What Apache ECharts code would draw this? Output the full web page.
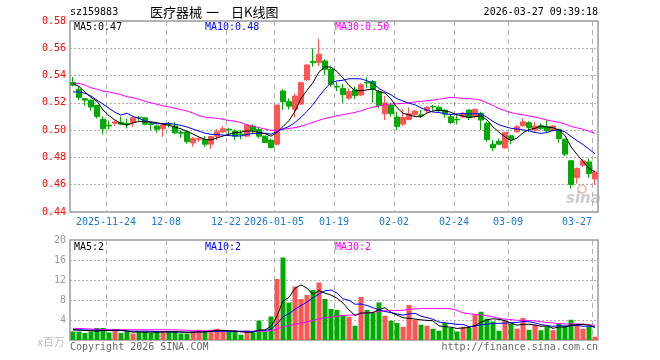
<!DOCTYPE html>
<html><head><meta charset="utf-8">
<script src="https://cdn.jsdelivr.net/npm/echarts@6/dist/echarts.min.js"></script>
<style>html,body{margin:0;padding:0;background:#fff}#c{width:660px;height:360px}</style>
</head><body><div id="c"></div>
<script>
const dates = ['2025-11-14','2025-11-17','2025-11-18','2025-11-19','2025-11-20','2025-11-21','2025-11-24','2025-11-25','2025-11-26','2025-11-27',
'2025-11-28','2025-12-01','2025-12-02','2025-12-03','2025-12-04','2025-12-05','2025-12-08','2025-12-09','2025-12-10','2025-12-11',
'2025-12-12','2025-12-15','2025-12-16','2025-12-17','2025-12-18','2025-12-19','2025-12-22','2025-12-23','2025-12-24','2025-12-25',
'2025-12-26','2025-12-29','2025-12-30','2025-12-31','2026-01-05','2026-01-06','2026-01-07','2026-01-08','2026-01-09','2026-01-12',
'2026-01-13','2026-01-14','2026-01-15','2026-01-16','2026-01-19','2026-01-20','2026-01-21','2026-01-22','2026-01-23','2026-01-26',
'2026-01-27','2026-01-28','2026-01-29','2026-01-30','2026-02-02','2026-02-03','2026-02-04','2026-02-05','2026-02-06','2026-02-09',
'2026-02-10','2026-02-11','2026-02-12','2026-02-13','2026-02-24','2026-02-25','2026-02-26','2026-02-27','2026-03-02','2026-03-03',
'2026-03-04','2026-03-05','2026-03-06','2026-03-09','2026-03-10','2026-03-11','2026-03-12','2026-03-13','2026-03-16','2026-03-17',
'2026-03-18','2026-03-19','2026-03-20','2026-03-23','2026-03-24','2026-03-25','2026-03-26','2026-03-27'];

const opens = [.535,.530,.523,.522,.518,.508,.5035,.505,.5058,.505,
.5056,.5095,.509,.5046,.503,.501,.5046,.503,.4982,.4988,
.4907,.4933,.4932,.4897,.4956,.4988,.5007,.4993,.4972,.4956,
.503,.5005,.4956,.4926,.4897,.5287,.5208,.5152,.5191,.5368,
.5505,.5495,.5507,.5446,.532,.5306,.5235,.5296,.5257,.535,
.5357,.5282,.512,.5184,.5096,.5044,.5077,.5115,.5112,.5143,
.5174,.5167,.5147,.5098,.508,.5098,.5147,.5098,.5123,.505,
.4897,.4919,.487,.4958,.4988,.5032,.5054,.500,.5032,.5025,
.4995,.5005,.4934,.4775,.4652,.4743,.4767,.4642];

const closes = [.533,.524,.522,.517,.510,.501,.503,.506,.5044,.504,
.509,.509,.5044,.5042,.5007,.504,.5043,.498,.4978,.4915,
.494,.4937,.4897,.4953,.4988,.501,.5003,.4956,.4968,.5037,
.500,.4956,.491,.4873,.5184,.5208,.5176,.525,.5348,.5478,
.5495,.5556,.5446,.5336,.5316,.526,.5282,.5253,.5333,.5346,
.5299,.518,.520,.512,.5027,.5093,.512,.514,.5108,.5167,
.517,.5143,.5118,.5056,.5076,.5123,.5093,.5152,.5074,.4931,
.487,.4897,.4983,.4934,.5025,.5061,.502,.503,.5012,.4995,
.503,.4939,.4824,.4601,.4718,.4775,.4681,.4694];

const lows = [.532,.522,.518,.514,.5085,.497,.5005,.503,.5036,.5012,
.5024,.507,.5036,.500,.498,.495,.502,.497,.4944,.490,
.4878,.4914,.4878,.4862,.4926,.4976,.4963,.4927,.4932,.4951,
.4976,.4939,.4904,.4865,.489,.5147,.5152,.5093,.5184,.5362,
.5465,.547,.5404,.5318,.5285,.520,.522,.5226,.525,.5306,
.520,.516,.5074,.5098,.500,.503,.5074,.5105,.509,.5127,
.5143,.513,.509,.5045,.5042,.5085,.5074,.509,.500,.4914,
.4846,.489,.4865,.4897,.498,.5025,.4988,.498,.500,.498,
.499,.4907,.481,.4571,.4608,.4731,.4652,.460];

const highs = [.539,.532,.5235,.5225,.5185,.510,.507,.507,.510,.5085,
.5098,.5105,.5095,.5053,.5036,.505,.506,.506,.500,.4995,
.495,.4946,.4956,.4956,.5007,.503,.5017,.5005,.500,.5044,
.5042,.5017,.4958,.4939,.5184,.530,.5233,.527,.5355,.5483,
.560,.5669,.552,.5461,.5352,.5338,.5306,.5318,.5343,.5387,
.5368,.5294,.525,.520,.5135,.5155,.5167,.5147,.5147,.5176,
.5184,.518,.515,.5115,.511,.5135,.5155,.516,.5135,.5062,
.4927,.4939,.4988,.4963,.5037,.5086,.5066,.5061,.505,.5074,
.5035,.5012,.4937,.478,.4726,.4787,.4792,.4706];

// volume in millions
const volumes = [1.7,1.7,1.4,1.7,2.4,2.4,1.5,2.0,1.4,1.7,
1.3,1.7,1.7,1.4,1.7,1.7,1.7,1.7,1.3,1.3,
1.7,2.05,1.7,2.05,2.25,1.6,1.6,1.6,1.06,1.9,
1.5,3.9,1.7,4.7,12.2,16.5,7.5,10.7,8.2,9.0,
10.0,11.5,8.2,6.2,6.0,5.0,4.6,2.85,8.6,6.0,
5.4,7.5,4.85,3.85,3.4,2.65,7.0,4.05,3.05,2.85,
2.25,1.85,3.4,2.4,1.7,2.65,2.4,5.25,5.65,4.25,
3.7,1.85,3.85,3.25,2.25,4.4,2.05,3.05,1.95,2.7,
1.95,3.4,2.85,4.05,3.05,2.25,2.7,0.66];

const ma5Head = [.534,.532,.528,.524];
const ma10Head = [.528,.528,.527,.525,.522,.519,.516,.513,.511];
const ma30Head = [.5343,.5343,.533,.531,.530,.5285,.528,.527,.526,.5245,
.5238,.5225,.521,.520,.519,.5178,.517,.516,.515,.514,
.5125,.5105,.5095,.509,.5087,.508,.507,.5065,.5055];
const vma5Head = [2.1,2.0,1.9,1.85];
const vma10Head = [2.0,2.0,2.0,1.95,1.95,1.95,1.9,1.9,1.9];
const vma30Head = [2.35,2.3,2.25,2.2,2.15,2.1,2.1,2.05,2.05,2.05,
2.05,2.05,2.05,2.05,2.05,2.05,2.05,2.0,2.0,1.95,
1.85,1.85,1.85,1.85,1.8,1.8,1.8,1.8,1.8];

const tickDates = ['2025-11-24','2025-12-08','2025-12-22','2026-01-05','2026-01-19','2026-02-02','2026-02-24','2026-03-09','2026-03-27'];
const tickLabels = ['2025-11-24','12-08','12-22','2026-01-05','01-19','02-02','02-24','03-09','03-27'];

const priceTicks = {min:0.44, max:0.58, interval:0.02};
const volTicks = {min:0, max:20, interval:4};

function ma(vals, n, head){
  return vals.map((v,i)=>{
    if(i < n-1) return head[i];
    let s=0; for(let k=i-n+1;k<=i;k++) s+=vals[k];
    return s/n;
  });
}
const ma5 = ma(closes,5,ma5Head), ma10 = ma(closes,10,ma10Head), ma30 = ma(closes,30,ma30Head);
const vma5 = ma(volumes,5,vma5Head), vma10 = ma(volumes,10,vma10Head), vma30 = ma(volumes,30,vma30Head);

const labelMap = {}; tickDates.forEach((d,k)=>labelMap[d]=tickLabels[k]);
const lastIdx = dates.length-1;
const isTick = (idx,val)=> labelMap[dates[idx]] !== undefined;

const MONO = '"DejaVu Sans Mono", monospace';
const CJK = '"Noto Sans CJK SC", sans-serif';
const UP = '#ff5555', DOWN = '#00aa00';
const gridLine = {color:'#adadad', type:[2,2], width:1};
const vLine = {color:'#b0b0b0', type:[5,4], width:1};
const last = a => a[a.length-1];

const chart = echarts.init(document.getElementById('c'), null, {renderer:'canvas'});
const option = {
  animation:false,
  backgroundColor:'#fff',
  grid:[
    {left:70, top:21, width:528, height:191, show:true, borderColor:'#9a9a9a', borderWidth:1.5, backgroundColor:'transparent'},
    {left:70, top:240, width:528, height:100, show:true, borderColor:'#9a9a9a', borderWidth:1.5, backgroundColor:'transparent'}
  ],
  xAxis:[
    {type:'category', gridIndex:0, data:dates, boundaryGap:true,
     axisLine:{show:false}, axisTick:{show:false},
     axisLabel:{show:true, interval:isTick, margin:5,
       formatter:(v,idx)=>{const t=labelMap[v]; if(!t) return ''; return idx===lastIdx?'{b|'+t+'}':'{a|'+t+'}';},
       rich:{a:{padding:[0,6,0,0], fontFamily:MONO, fontSize:10, color:'#1a7bd1'},
             b:{padding:[0,36,0,0], fontFamily:MONO, fontSize:10, color:'#1a7bd1'}}},
     splitLine:{show:true, interval:isTick, lineStyle:vLine}},
    {type:'category', gridIndex:1, data:dates, boundaryGap:true,
     axisLine:{show:false}, axisTick:{show:false}, axisLabel:{show:false},
     splitLine:{show:true, interval:isTick, lineStyle:vLine}}
  ],
  yAxis:[
    {type:'value', gridIndex:0, min:priceTicks.min, max:priceTicks.max, interval:priceTicks.interval,
     axisLine:{show:false}, axisTick:{show:false},
     axisLabel:{color:'#ff0000', fontFamily:MONO, fontSize:10, margin:4, formatter:v=>v.toFixed(2)},
     splitLine:{show:true, lineStyle:gridLine}},
    {type:'value', gridIndex:1, min:volTicks.min, max:volTicks.max, interval:volTicks.interval,
     axisLine:{show:false}, axisTick:{show:false},
     axisLabel:{color:'#999', fontFamily:MONO, fontSize:10, margin:4, formatter:v=>v===0?'':String(v)},
     splitLine:{show:true, lineStyle:gridLine}}
  ],
  series:[
    {type:'candlestick', xAxisIndex:0, yAxisIndex:0, barWidth:5,
     data:dates.map((d,i)=>[opens[i],closes[i],lows[i],highs[i]]),
     itemStyle:{color:UP, color0:DOWN, borderColor:UP, borderColor0:DOWN, borderWidth:1}},
    {type:'line', xAxisIndex:0, yAxisIndex:0, data:ma30, symbol:'none', lineStyle:{color:'#ff00ff', width:1}},
    {type:'line', xAxisIndex:0, yAxisIndex:0, data:ma10, symbol:'none', lineStyle:{color:'#0000ff', width:1}},
    {type:'line', xAxisIndex:0, yAxisIndex:0, data:ma5, symbol:'none', lineStyle:{color:'#000000', width:1}},
    {type:'bar', xAxisIndex:1, yAxisIndex:1, barWidth:5,
     data:volumes.map((v,i)=>({value:v, itemStyle:{color: closes[i]>=opens[i]?UP:DOWN}}))},
    {type:'line', xAxisIndex:1, yAxisIndex:1, data:vma30, symbol:'none', lineStyle:{color:'#ff00ff', width:1}},
    {type:'line', xAxisIndex:1, yAxisIndex:1, data:vma10, symbol:'none', lineStyle:{color:'#0000ff', width:1}},
    {type:'line', xAxisIndex:1, yAxisIndex:1, data:vma5, symbol:'none', lineStyle:{color:'#000000', width:1}}
  ],
  graphic:[
    {type:'text', x:70, y:12, style:{text:'sz159883', font:'10px '+MONO, fill:'#000', textVerticalAlign:'middle'}},
    {type:'text', x:150, y:12, style:{text:'医疗器械', font:'13px '+CJK, fill:'#000', textVerticalAlign:'middle'}},
    {type:'text', x:206, y:12, style:{text:'一', font:'13px '+CJK, fill:'#000', textVerticalAlign:'middle'}},
    {type:'text', x:231, y:12, style:{text:'日K线图', font:'13px '+CJK, fill:'#000', textVerticalAlign:'middle'}},
    {type:'text', x:598, y:12, style:{text:'2026-03-27 09:39:18', font:'10px '+MONO, fill:'#000', textAlign:'right', textVerticalAlign:'middle'}},
    {type:'text', x:74, y:27, style:{text:'MA5:'+last(ma5).toFixed(2), font:'10px '+MONO, fill:'#000', textVerticalAlign:'middle'}},
    {type:'text', x:205, y:27, style:{text:'MA10:'+last(ma10).toFixed(2), font:'10px '+MONO, fill:'#0000ff', textVerticalAlign:'middle'}},
    {type:'text', x:335, y:27, style:{text:'MA30:'+last(ma30).toFixed(2), font:'10px '+MONO, fill:'#ff00ff', textVerticalAlign:'middle'}},
    {type:'text', x:74, y:247, style:{text:'MA5:'+Math.floor(last(vma5)), font:'10px '+MONO, fill:'#000', textVerticalAlign:'middle'}},
    {type:'text', x:205, y:247, style:{text:'MA10:'+Math.floor(last(vma10)), font:'10px '+MONO, fill:'#0000ff', textVerticalAlign:'middle'}},
    {type:'text', x:335, y:247, style:{text:'MA30:'+Math.floor(last(vma30)), font:'10px '+MONO, fill:'#ff00ff', textVerticalAlign:'middle'}},
    {type:'text', x:65, y:342, style:{text:'x百万', font:'11px '+CJK, fill:'#bbbbbb', textAlign:'right', textVerticalAlign:'middle'}},
    {type:'text', x:70, y:347, style:{text:'Copyright 2026 SINA.COM', font:'10px '+MONO, fill:'#666', textVerticalAlign:'middle'}},
    {type:'text', x:598, y:347, style:{text:'http://finance.sina.com.cn', font:'10px '+MONO, fill:'#666', textAlign:'right', textVerticalAlign:'middle'}},
    {type:'circle', shape:{cx:582, cy:189, r:4}, style:{fill:'none', stroke:'rgba(235,150,150,0.6)', lineWidth:2}, silent:true},
    {type:'text', x:566, y:199, style:{text:'sina', font:'italic bold 15px "DejaVu Sans", sans-serif', fill:'rgba(170,170,170,0.6)', textVerticalAlign:'middle'}, silent:true}
  ]
};
chart.setOption(option);
</script>
</body></html>
